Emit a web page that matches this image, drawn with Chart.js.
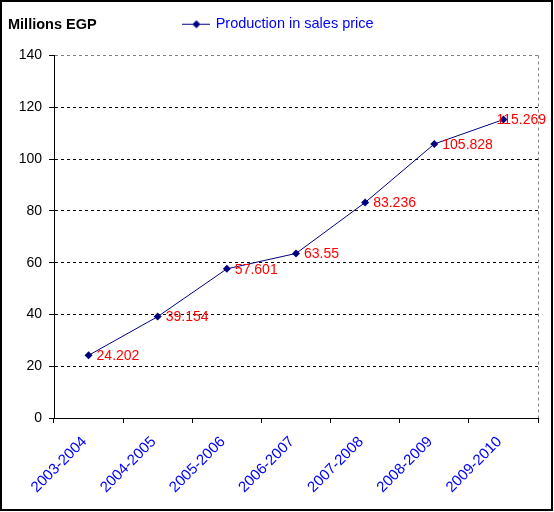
<!DOCTYPE html>
<html>
<head>
<meta charset="utf-8">
<script src="https://cdn.jsdelivr.net/npm/chart.js@4/dist/chart.umd.min.js"></script>
<style>
    html, body { margin: 0; padding: 0; background: #fff; }
    #wrap { width: 554px; height: 512px; position: relative; }
</style>
</head>
<body>
<div id="wrap"><canvas id="production_chart"></canvas></div>
<script>
const seasons = ['2003-2004', '2004-2005', '2005-2006', '2006-2007', '2007-2008', '2008-2009', '2009-2010'];
const productionValues = [24.202, 39.154, 57.601, 63.55, 83.236, 105.828, 115.269];
const seriesLabel = 'Production in sales price';
const yAxisTitle = 'Millions EGP';
const yMin = 0;
const yMax = 140;
const yStep = 20;

const fontFamily = '"Liberation Sans", Arial, sans-serif';
const navy = '#000080';

// legend marker: short line with a diamond in the middle
const legendMarker = document.createElement('canvas');
legendMarker.width = 28;
legendMarker.height = 9;
(function () {
    const c = legendMarker.getContext('2d');
    c.strokeStyle = navy;
    c.lineWidth = 1;
    c.beginPath();
    c.moveTo(0, 4.5);
    c.lineTo(28, 4.5);
    c.stroke();
    c.fillStyle = navy;
    c.beginPath();
    c.moveTo(14, 0.5);
    c.lineTo(18, 4.5);
    c.lineTo(14, 8.5);
    c.lineTo(10, 4.5);
    c.closePath();
    c.fill();
})();

const framePlugin = {
    id: 'frame',
    beforeInit(chart) {
        // leave more room between the legend and the plot
        const legend = chart.legend;
        if (legend) {
            const origFit = legend.fit;
            legend.fit = function () {
                origFit.call(this);
                this.height += 14;
            };
        }
    },
    afterLayout(chart) {
        // legend sits a bit right of centre in the original
        if (chart.legend) {
            chart.legend.left += 10;
            chart.legend.right += 10;
        }
    },
    beforeDatasetsDraw(chart) {
        const {ctx, chartArea} = chart;
        ctx.save();
        ctx.strokeStyle = '#808080';
        ctx.lineWidth = 1;
        ctx.setLineDash([3, 3]);
        ctx.beginPath();
        ctx.moveTo(Math.round(chartArea.right) + 0.5, chartArea.top);
        ctx.lineTo(Math.round(chartArea.right) + 0.5, chartArea.bottom);
        ctx.stroke();
        ctx.restore();
    },
    afterDraw(chart) {
        const ctx = chart.ctx;
        ctx.save();
        ctx.strokeStyle = '#000';
        ctx.lineWidth = 2;
        ctx.strokeRect(1, 1, chart.width - 3, chart.height - 3);
        ctx.fillStyle = '#000';
        ctx.font = 'bold 14.5px ' + fontFamily;
        ctx.textAlign = 'left';
        ctx.textBaseline = 'alphabetic';
        ctx.fillText(yAxisTitle, 8, 29);
        ctx.restore();
    }
};

const valueLabelPlugin = {
    id: 'valueLabels',
    afterDatasetsDraw(chart) {
        const ctx = chart.ctx;
        const meta = chart.getDatasetMeta(0);
        ctx.save();
        ctx.font = '14px ' + fontFamily;
        ctx.fillStyle = '#FF0000';
        ctx.textAlign = 'left';
        ctx.textBaseline = 'middle';
        meta.data.forEach((pt, i) => {
            const text = String(productionValues[i]);
            const w = ctx.measureText(text).width;
            const x = Math.min(pt.x + 8, chart.chartArea.right + 8 - w);
            ctx.fillText(text, x, pt.y + 1);
        });
        ctx.restore();
    }
};

const ctx = document.getElementById('production_chart').getContext('2d');
const productionChart = new Chart(ctx, {
    type: 'line',
    data: {
        labels: seasons,
        datasets: [{
            label: seriesLabel,
            data: productionValues,
            borderColor: navy,
            backgroundColor: navy,
            borderWidth: 1,
            pointStyle: 'rectRot',
            pointRadius: 4,
            pointBackgroundColor: navy,
            pointBorderColor: navy,
            pointBorderWidth: 0,
            tension: 0
        }]
    },
    options: {
        responsive: true,
        maintainAspectRatio: false,
        animation: false,
        layout: {
            padding: {left: 0, right: 16, top: 7, bottom: 0}
        },
        scales: {
            x: {
                offset: true,
                grid: {
                    offset: true,
                    drawOnChartArea: false,
                    drawTicks: true,
                    tickLength: 5,
                    color: '#000'
                },
                border: {color: '#000', width: 1},
                ticks: {
                    color: '#0000FF',
                    font: {family: fontFamily, size: 15},
                    minRotation: 45,
                    maxRotation: 45,
                    autoSkip: false,
                    padding: 10,
                    labelOffset: -4
                },
                afterFit(scale) {
                    scale.height = 94;
                }
            },
            y: {
                min: yMin,
                max: yMax,
                grid: {
                    color: (c) => (c.tick && c.tick.value === yMax ? '#808080' : '#000'),
                    tickColor: '#000',
                    tickLength: 5,
                    tickBorderDash: [],
                    lineWidth: 1
                },
                border: {color: '#000', width: 1, dash: [3, 3]},
                ticks: {
                    stepSize: yStep,
                    color: '#000',
                    font: {family: fontFamily, size: 14},
                    padding: 7
                },
                afterFit(scale) {
                    scale.width = 54;
                }
            }
        },
        plugins: {
            legend: {
                display: true,
                position: 'top',
                labels: {
                    usePointStyle: true,
                    pointStyle: legendMarker,
                    pointStyleWidth: 24,
                    color: '#0000FF',
                    font: {family: fontFamily, size: 14.5},
                    padding: 10,
                    generateLabels: function () {
                        return [{
                            text: seriesLabel,
                            fontColor: '#0000FF',
                            pointStyle: legendMarker,
                            fillStyle: navy,
                            strokeStyle: navy,
                            lineWidth: 0,
                            hidden: false,
                            datasetIndex: 0
                        }];
                    }
                }
            },
            tooltip: {enabled: false}
        }
    },
    plugins: [framePlugin, valueLabelPlugin]
});
</script>
</body>
</html>
